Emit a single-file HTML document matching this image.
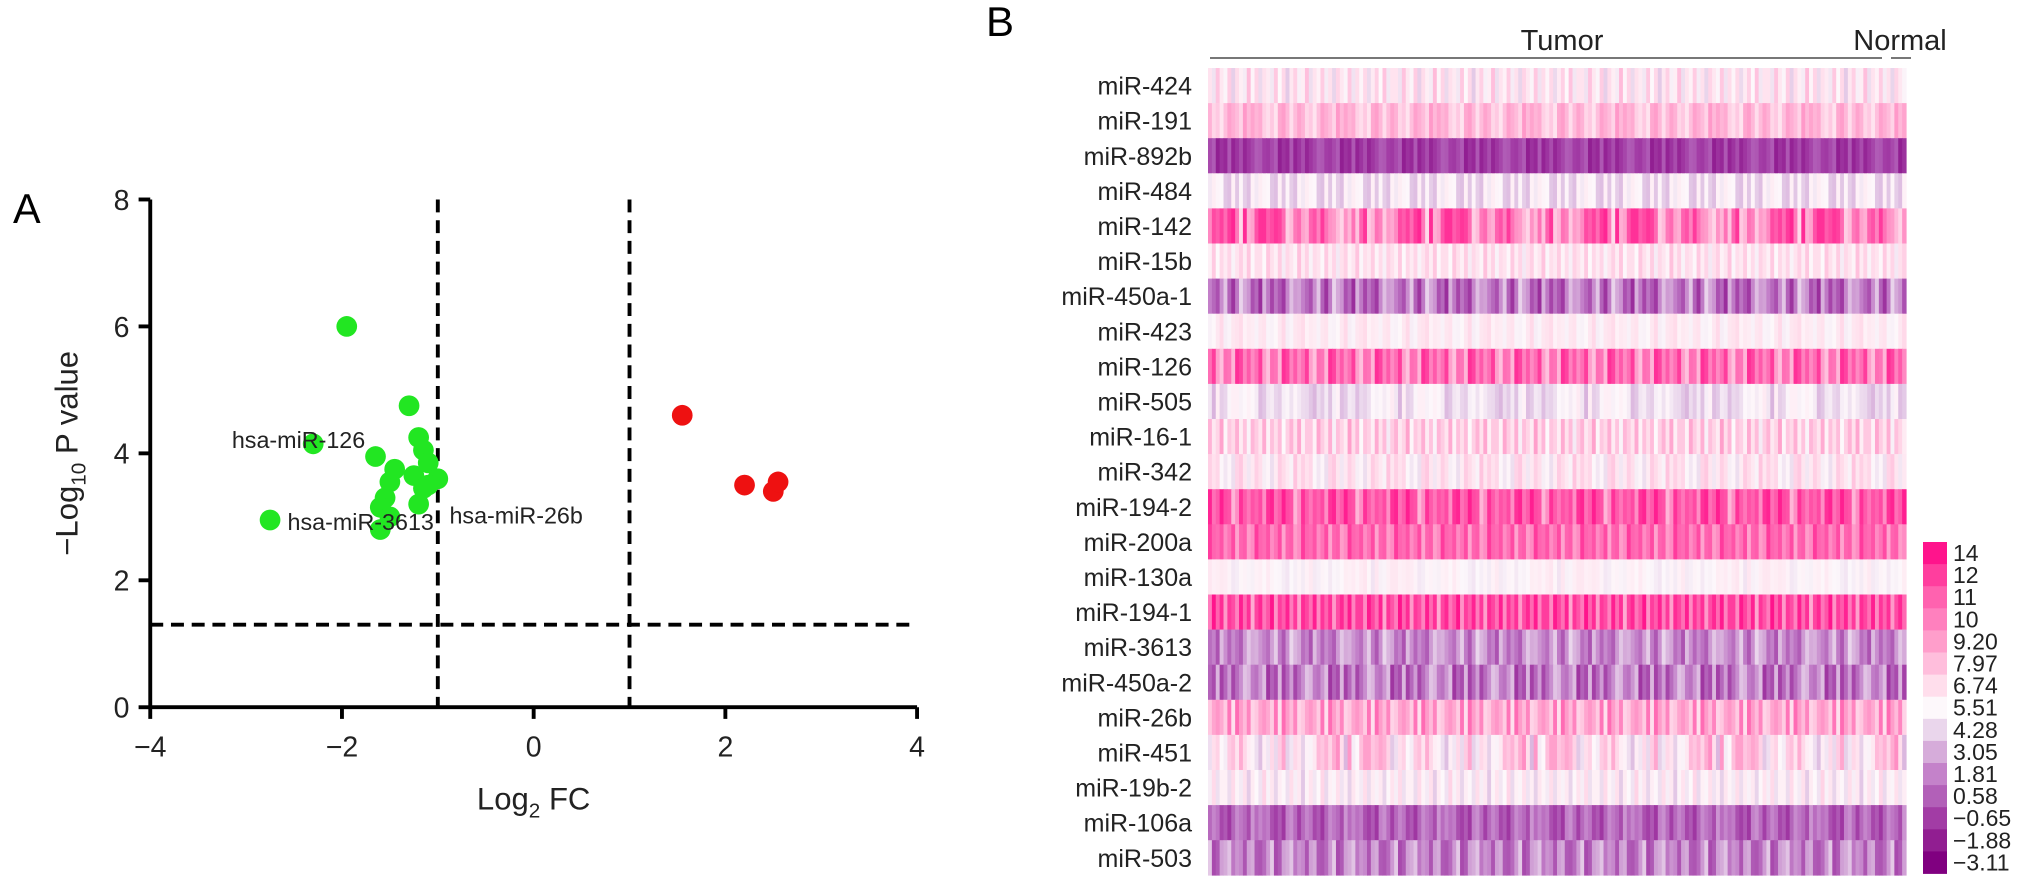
<!DOCTYPE html>
<html><head><meta charset="utf-8"><style>
body{margin:0;background:#fff;}
svg{display:block;font-family:"Liberation Sans",Arial,sans-serif;}
</style></head><body>
<svg id="fig" width="2031" height="894" viewBox="0 0 2031 894">
<g transform="scale(1.2953)">
<text x="10" y="172" font-size="32">A</text>
<g id="volcano"></g>
</g>
<text x="986" y="36" font-size="42">B</text>
<g id="heat"></g>
</svg>
<script>
const NS="http://www.w3.org/2000/svg";
function mk(p,t,a,txt){const e=document.createElementNS(NS,t);for(const k in a)e.setAttribute(k,a[k]);if(txt!=null)e.textContent=txt;p.appendChild(e);return e;}

// ---- Volcano data ----
const downX=[-1.95,-2.3,-1.3,-1.65,-1.2,-1.15,-1.1,-1.25,-1.0,-1.5,-1.15,-1.55,-1.6,-2.75,-1.6,-1.5,-1.2,-1.45,-1.1];
const downY=[6.0,4.15,4.75,3.95,4.25,4.05,3.85,3.65,3.6,3.55,3.45,3.3,3.15,2.95,2.8,3.0,3.2,3.75,3.5];
const upX=[1.55,2.2,2.5,2.55];
const upY=[4.6,3.5,3.4,3.55];
const xTicks=[-4,-2,0,2,4];
const yTicks=[0,2,4,6,8];
const vx=v=>412+v*74, vy=v=>546-v*49;

const V=document.getElementById('volcano');
let a=mk(V,'line',{x1:vx(-4),y1:vy(0),x2:vx(4),y2:vy(0),stroke:'#000','stroke-width':3});

a=mk(V,'line',{x1:vx(-4),y1:vy(0)+1,x2:vx(-4),y2:vy(8),stroke:'#000','stroke-width':3});

xTicks.forEach(t=>{mk(V,'line',{x1:vx(t),y1:vy(0),x2:vx(t),y2:vy(0)+9,stroke:'#000','stroke-width':3});
 const l=mk(V,'text',{x:vx(t),y:vy(0)+38,'font-size':22,'text-anchor':'middle',fill:'#222'},t<0?'\u2212'+(-t):t);
 });
yTicks.forEach(t=>{mk(V,'line',{x1:vx(-4)-9,y1:vy(t),x2:vx(-4),y2:vy(t),stroke:'#000','stroke-width':3});
 const l=mk(V,'text',{x:vx(-4)-16,y:vy(t)+8,'font-size':22,'text-anchor':'end',fill:'#222'},t);
 });
[-1,1].forEach(d=>{const l=mk(V,'line',{x1:vx(d),y1:vy(8),x2:vx(d),y2:vy(0),stroke:'#000','stroke-width':3,'stroke-dasharray':'10 6'});
 });
a=mk(V,'line',{x1:vx(-4),y1:vy(1.3),x2:vx(4),y2:vy(1.3),stroke:'#000','stroke-width':3,'stroke-dasharray':'10 6'});

downX.forEach((x,i)=>{const c=mk(V,'circle',{cx:vx(x),cy:vy(downY[i]),r:8,fill:'#22e622'});
 });
upX.forEach((x,i)=>{const c=mk(V,'circle',{cx:vx(x),cy:vy(upY[i]),r:8,fill:'#ee1111'});
 });
[['hsa-miR-126',179,346],['hsa-miR-3613',222,409],['hsa-miR-26b',347,404]].forEach(l=>{
 const t=mk(V,'text',{x:l[1],y:l[2],'font-size':18,fill:'#222'},l[0]);
 });
a=mk(V,'text',{x:412,y:625,'font-size':24,'text-anchor':'middle',fill:'#222'});
a.innerHTML='Log<tspan font-size="16" dy="6">2</tspan><tspan dy="-6"> FC</tspan>';

a=mk(V,'text',{transform:'translate(60,350) rotate(-90)','font-size':24,'text-anchor':'middle',fill:'#222'});
a.innerHTML='\u2212Log<tspan font-size="16" dy="6">10</tspan><tspan dy="-6"> P value</tspan>';


// ---- Heatmap data ----
const genes=['miR-424','miR-191','miR-892b','miR-484','miR-142','miR-15b','miR-450a-1','miR-423','miR-126','miR-505','miR-16-1','miR-342','miR-194-2','miR-200a','miR-130a','miR-194-1','miR-3613','miR-450a-2','miR-26b','miR-451','miR-19b-2','miR-106a','miR-503'];
const rowMean=[6.0,7.8,-0.6,4.7,10.0,6.4,1.5,5.9,10.6,4.7,7.1,6.0,11.0,10.2,5.6,11.4,2.2,1.6,8.6,6.5,5.5,0.6,1.6];
const rowSpread=[1.0,0.8,0.6,0.7,1.5,0.7,1.3,0.5,1.3,0.7,1.0,0.9,1.4,1.5,0.4,1.3,1.0,1.2,1.0,1.5,0.8,0.9,1.1];
const colOffset=[0.3,-0.8,1.1,0.2,-0.4,0.9,-1.2,0.5,0.0,-0.6,1.3,-0.2,0.7,-1.0,0.4,0.1,-0.7,1.0,-0.3,0.6,-1.3,0.2,0.8,-0.5,0.0,1.2,-0.9,0.3,-0.1,0.9,-0.6,0.4,-1.1,0.7,0.2,-0.4,1.0,-0.8,0.5,-0.2,0.6,-1.0,0.1,0.8,-0.3,1.1,-0.7,0.3];
const legendVals=['14','12','11','10','9.20','7.97','6.74','5.51','4.28','3.05','1.81','0.58','\u22120.65','\u22121.88','\u22123.11'];
const nCols=180;

const stops=[[-3.11,[128,0,128]],[-1.88,[145,30,145]],[-0.65,[162,60,165]],[0.58,[178,96,184]],[1.81,[196,130,202]],[3.05,[214,172,218]],[4.28,[234,214,236]],[5.51,[253,248,251]],[6.74,[255,222,236]],[7.97,[255,190,220]],[9.2,[255,158,203]],[10,[255,128,190]],[11,[255,98,175]],[12,[255,62,158]],[14,[255,20,140]]];
function col(v){if(v<=stops[0][0])return 'rgb('+stops[0][1]+')';
 for(let i=1;i<stops.length;i++){if(v<=stops[i][0]){const a=stops[i-1],b=stops[i],t=(v-a[0])/(b[0]-a[0]);
  return 'rgb('+a[1].map((c,k)=>Math.round(c+(b[1][k]-c)*t)).join(',')+')';}}
 return 'rgb('+stops[stops.length-1][1]+')';}

const H=document.getElementById('heat');
const hx0=1208,hx1=1906,hy0=68,rh=35.1,cw=(hx1-hx0)/nCols;
genes.forEach((g,r)=>{
 const row=mk(H,'g',{});
 
 
 for(let c=0;c<nCols;c++){
  const off=colOffset[(c*(r%5+1)+r*7)%colOffset.length];
  const v=rowMean[r]+off*rowSpread[r]*1.6;
  mk(row,'rect',{x:hx0+c*cw,y:hy0+r*rh,width:cw+0.6,height:rh+0.3,fill:col(v)});
 }
 const t=mk(H,'text',{x:1192,y:hy0+r*rh+rh/2+9,'font-size':25,'text-anchor':'end',fill:'#222'},g);
 
});
a=mk(H,'line',{x1:1210,y1:58,x2:1882,y2:58,stroke:'#777','stroke-width':2});

a=mk(H,'line',{x1:1891,y1:58,x2:1911,y2:58,stroke:'#777','stroke-width':2});

a=mk(H,'text',{x:1562,y:50,'font-size':29,'text-anchor':'middle',fill:'#222'},'Tumor');

a=mk(H,'text',{x:1900,y:50,'font-size':29,'text-anchor':'middle',fill:'#222'},'Normal');

const lg=mk(H,'g',{});

legendVals.forEach((s,i)=>{const y=542+i*22.1;
 mk(lg,'rect',{x:1923,y:y,width:24,height:22.5,fill:col(parseFloat(s.replace('\u2212','-')))});
 const t=mk(lg,'text',{x:1953,y:y+19,'font-size':23,fill:'#222'},s);
 });
</script>
</body></html>
